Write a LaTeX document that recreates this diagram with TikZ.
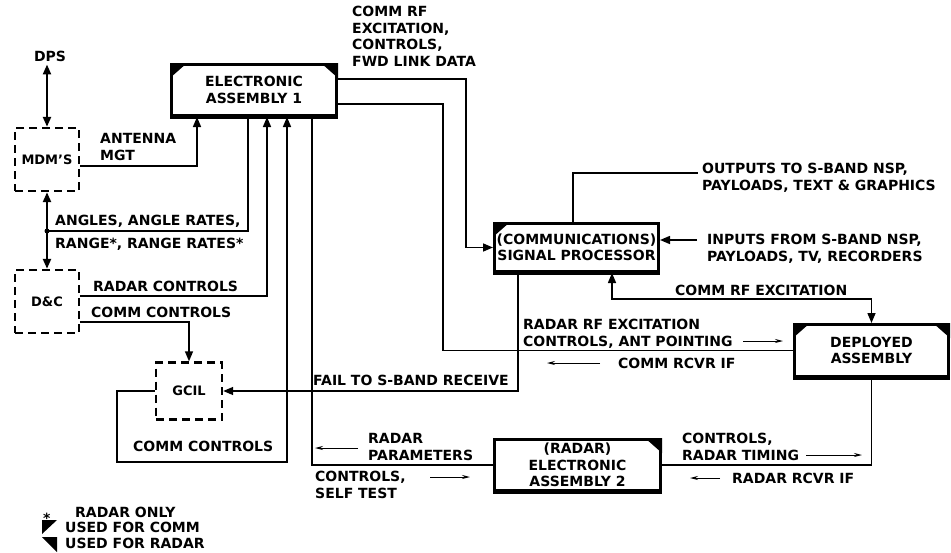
\documentclass[tikz,border=0pt]{standalone}
\usepackage{fontspec}
\setmainfont{DejaVu Sans}
\usetikzlibrary{arrows.meta}
\begin{document}
\begin{tikzpicture}[x=1pt,y=-1pt,
  >={Triangle[length=10pt,width=8pt]},
  txt/.style={font=\fontsize{14}{16.5}\selectfont\bfseries},
  lbl/.style={txt, inner sep=0pt, align=left, anchor=base west},
  blk/.style={txt, draw, line width=3pt, align=center, inner sep=0pt},
  dbox/.style={font=\fontsize{13}{16}\selectfont\bfseries, draw, line width=2.4pt, dash pattern=on 8pt off 5pt, inner sep=0pt},
  wire/.style={line width=1.5pt},
  wire2/.style={line width=2.2pt},
  sarr/.style={line width=1pt, -{Stealth[length=8pt,width=4pt]}},
]
\useasboundingbox (0,0) rectangle (951,552);

% ---- main blocks
\node[blk, minimum width=165pt, minimum height=51pt] (ea1) at (254,90) {ELECTRONIC\\ASSEMBLY 1};
\node[blk, minimum width=164pt, minimum height=48pt] (sp) at (576.5,247.5) {(COMMUNICATIONS)\\SIGNAL PROCESSOR};
\node[blk, minimum width=154pt, minimum height=52pt] (da) at (871.5,350.5) {DEPLOYED\\ASSEMBLY};
\node[blk, minimum width=166pt, minimum height=51pt] (ea2) at (577.5,465) {(RADAR)\\ELECTRONIC\\ASSEMBLY 2};

% heavier lower edges
\foreach \b in {ea1,sp,da,ea2}{
  \draw[line width=3pt] (\b.south west) -- (\b.south east);
}

% corner marks
\fill (ea1.north west) -- ++(17,0) -- ++(-17,15) -- cycle;
\fill (ea1.north east) -- ++(-17,0) -- ++(17,15) -- cycle;
\fill (sp.north west) -- ++(17,0) -- ++(-17,15) -- cycle;
\fill (da.north west) -- ++(17,0) -- ++(-17,15) -- cycle;
\fill (da.north east) -- ++(-17,0) -- ++(17,15) -- cycle;
\fill (ea2.north east) -- ++(-17,0) -- ++(17,15) -- cycle;

% ---- dashed blocks
\node[dbox, minimum width=64pt, minimum height=63pt] (mdm) at (47,159.5) {MDM'S};
\node[dbox, minimum width=64pt, minimum height=63pt] (dc) at (47,301.5) {D\&C};
\node[dbox, minimum width=66pt, minimum height=57pt] (gcil) at (189,391) {GCIL};

\node[txt, inner sep=0pt] (dps) at (50,56) {DPS};

% ---- connectors
\draw[wire2,<->, shorten <=3pt] (dps.south -| mdm.north) -- (mdm.north);
\coordinate (j1) at (47,231);
\draw[wire2,<->] (mdm.south) -- (dc.north);
\draw[wire] (ea1.south -| 248,0) |- (j1);
\fill (j1) circle (2.5pt);

\draw[wire,->] (mdm.east |- 0,166) -| (ea1.south -| 197,0);
\draw[wire,->] (dc.east |- 0,296) -| (ea1.south -| 267,0);
\draw[wire,->] (dc.east |- 0,322) -| (gcil.north);
\draw[wire,->] (gcil.west) -| (117,462) -| (ea1.south -| 287,0);
\draw[wire,->] (sp.south -| 518,0) |- (gcil.east);
\draw[wire] (ea1.south -| 312,0) |- (ea2.west);
\draw[wire,->] (ea1.east |- 0,79) -| (466,0 |- sp.west) -- (sp.west);
\draw[wire] (ea1.east |- 0,104) -| (443,0 |- da.west) -- (da.west);
\draw[wire,<->] (sp.south -| 612,0) |- (da.north |- 0,299) -- (da.north);
\coordinate (oute) at (698,173);
\draw[wire] (sp.north -| 573,0) |- (oute);
\coordinate (ine) at (697,240);
\draw[wire,->] (ine) -- (sp.east |- ine);
\draw[wire] (da.south) |- (ea2.east);

% ---- labels (base = baseline of last line)
\node[lbl] (l1) at (352,66) {COMM RF\\EXCITATION,\\CONTROLS,\\FWD LINK DATA};
\node[lbl] (l2) at (100,160) {ANTENNA\\MGT};
\node[lbl] (l3) at (55,225) {ANGLES, ANGLE RATES,};
\node[lbl] (l4) at (55,248) {RANGE*, RANGE RATES*};
\node[lbl] (l5) at (93,291) {RADAR CONTROLS};
\node[lbl] (l6) at (91,317) {COMM CONTROLS};
\node[lbl] (l7) at (133,451) {COMM CONTROLS};
\node[lbl] (l8) at (313,385) {FAIL TO S-BAND RECEIVE};
\node[lbl] (l9) at (523,346) {RADAR RF EXCITATION\\CONTROLS, ANT POINTING};
\node[lbl] (l10) at (618,368) {COMM RCVR IF};
\node[lbl] (l11) at (675,295) {COMM RF EXCITATION};
\node[lbl] (l12) at (702,190) {OUTPUTS TO S-BAND NSP,\\PAYLOADS, TEXT \& GRAPHICS};
\node[lbl] (l13) at (707,261) {INPUTS FROM S-BAND NSP,\\PAYLOADS, TV, RECORDERS};
\node[lbl] (l14) at (368,460) {RADAR\\PARAMETERS};
\node[lbl] (l15) at (315,498) {CONTROLS,\\SELF TEST};
\node[lbl] (l16) at (682,460) {CONTROLS,\\RADAR TIMING};
\node[lbl] (l17) at (732,483) {RADAR RCVR IF};

% small direction arrows
\draw[sarr] (358,448) -- (315,448);
\draw[sarr] (430,477) -- (470,477);
\draw[sarr] (743,341) -- (783,341);
\draw[sarr] (600,363) -- (547,363);
\draw[sarr] (806,455) -- (862,455);
\draw[sarr] (720,478) -- (690,478);

% ---- legend
\node[lbl] (g0) at (43,523) {*};
\node[lbl] (g1) at (75,517) {RADAR ONLY};
\fill (42,520) -- (57,520) -- (42,534) -- cycle;
\node[lbl] (g2) at (65,532) {USED FOR COMM};
\fill (42,537) -- (57,537) -- (57,552) -- cycle;
\node[lbl] (g3) at (65,548) {USED FOR RADAR};
\end{tikzpicture}
\end{document}
